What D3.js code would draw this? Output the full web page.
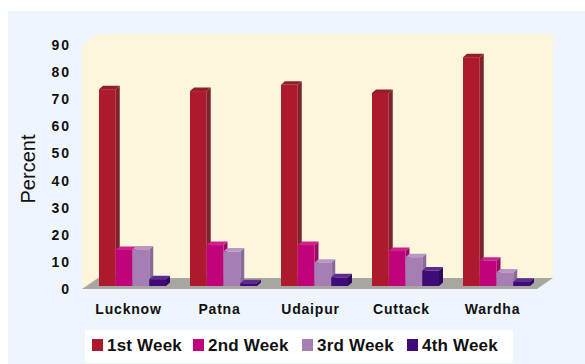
<!DOCTYPE html>
<html>
<head>
<meta charset="utf-8">
<script src="https://cdn.jsdelivr.net/npm/d3@7"></script>
<style>
  html, body { margin: 0; padding: 0; background: #ffffff; }
  svg { display: block; }
</style>
</head>
<body>
<svg id="chart" width="585" height="364"></svg>
<script>
// Share of cases by week, per site
const cities = ["Lucknow", "Patna", "Udaipur", "Cuttack", "Wardha"];
const weeks = ["1st Week", "2nd Week", "3rd Week", "4th Week"];
const week1 = [72.6, 71.9, 74.2, 71.2, 84.4];
const week2 = [13.3, 15.1, 15.1, 12.9, 9.3];
const week3 = [13.5, 12.7, 8.6, 10.6, 5.0];
const week4 = [2.5, 1.0, 3.2, 5.7, 1.6];
const yTicks = [0, 10, 20, 30, 40, 50, 60, 70, 80, 90];

const seriesValues = [week1, week2, week3, week4];
const fronts = ["#ad1a2e", "#c1037b", "#a57fb3", "#3f0b78"];
const sides  = ["#7b2430", "#9a0a66", "#8a6a9b", "#2e0a5a"];
const tops   = ["#8f1f2c", "#d0208c", "#b897c4", "#5b2b90"];

const svg = d3.select("#chart");
const font = "'Liberation Sans', Arial, Helvetica, sans-serif";

// panel background
svg.append("rect").attr("x", 8).attr("y", 11).attr("width", 577).attr("height", 353)
  .attr("fill", "#eef5fc");

// front plane of the 3D box
const x = d3.scaleBand().domain(cities).range([82, 537]);
const y = d3.scaleLinear().domain([0, 90]).range([289, 45]);
const wall = { dx: 16, dy: -11 };   // depth of the back wall
const barOff = { dx: 5, dy: -3 };   // bars sit slightly behind the front plane
const barDepth = { dx: 4, dy: -3.5 };

const x0 = x.range()[0], x1 = x.range()[1];
const yb = y(0), yt = y(90);

// back + side wall
svg.append("path")
  .attr("d", d3.line()([
    [x0, yb], [x0, yt], [x0 + wall.dx, yt + wall.dy], [x1 + wall.dx, yt + wall.dy],
    [x1 + wall.dx, yb + wall.dy], [x1, yb]
  ]) + "Z")
  .attr("fill", "#fcf7dc");

// floor
svg.append("path")
  .attr("d", d3.line()([
    [x0, yb], [x0 + wall.dx, yb + wall.dy], [x1 + wall.dx, yb + wall.dy], [x1, yb]
  ]) + "Z")
  .attr("fill", "#a9a6a1");

// bars within each category
const inner = d3.scaleBand().domain(weeks).range([12, 79]);

const bars = svg.append("g");
cities.forEach((c, ci) => {
  weeks.forEach((w, si) => {
    const v = seriesValues[si][ci];
    const bx = x(c) + inner(w) + barOff.dx;
    const bw = inner.bandwidth();
    const by = y(v) + barOff.dy;
    const b0 = y(0) + barOff.dy;
    const g = bars.append("g");
    // side face
    g.append("path")
      .attr("d", d3.line()([
        [bx + bw, b0], [bx + bw, by], [bx + bw + barDepth.dx, by + barDepth.dy],
        [bx + bw + barDepth.dx, b0 + barDepth.dy]
      ]) + "Z")
      .attr("fill", sides[si]);
    // top face
    g.append("path")
      .attr("d", d3.line()([
        [bx, by], [bx + barDepth.dx, by + barDepth.dy],
        [bx + bw + barDepth.dx, by + barDepth.dy], [bx + bw, by]
      ]) + "Z")
      .attr("fill", tops[si]);
    // front face
    g.append("rect")
      .attr("x", bx).attr("y", by).attr("width", bw).attr("height", b0 - by)
      .attr("fill", fronts[si]);
  });
});

// y tick labels
svg.append("g").selectAll("text").data(yTicks).join("text")
  .attr("x", 71).attr("y", d => y(d)).attr("dy", "0.36em")
  .attr("text-anchor", "end")
  .attr("font-family", font).attr("font-weight", "bold").attr("font-size", 14)
  .attr("letter-spacing", 2)
  .attr("fill", "#111")
  .text(d => d);

// y axis title
svg.append("text")
  .attr("transform", "translate(35,169) rotate(-90)")
  .attr("text-anchor", "middle")
  .attr("font-family", font).attr("font-size", 20)
  .attr("fill", "#111")
  .text("Percent");

// category labels
svg.append("g").selectAll("text").data(cities).join("text")
  .attr("x", d => x(d) + x.bandwidth() / 2 + 1).attr("y", 314)
  .attr("text-anchor", "middle")
  .attr("font-family", font).attr("font-weight", "bold").attr("font-size", 14)
  .attr("letter-spacing", 0.8)
  .attr("fill", "#111")
  .text(d => d);

// legend
svg.append("rect").attr("x", 85).attr("y", 330).attr("width", 428).attr("height", 33)
  .attr("fill", "#ffffff");
const legendX = [92, 193, 302, 407];
const lg = svg.append("g").selectAll("g").data(weeks).join("g")
  .attr("transform", (d, i) => `translate(${legendX[i]},339)`);
lg.append("rect").attr("width", 11).attr("height", 12)
  .attr("fill", (d, i) => fronts[i]);
lg.append("text").attr("x", 15).attr("y", 12)
  .attr("font-family", font).attr("font-weight", "bold").attr("font-size", 17)
  .attr("letter-spacing", 0.2)
  .attr("fill", "#111")
  .text(d => d);
</script>
</body>
</html>
